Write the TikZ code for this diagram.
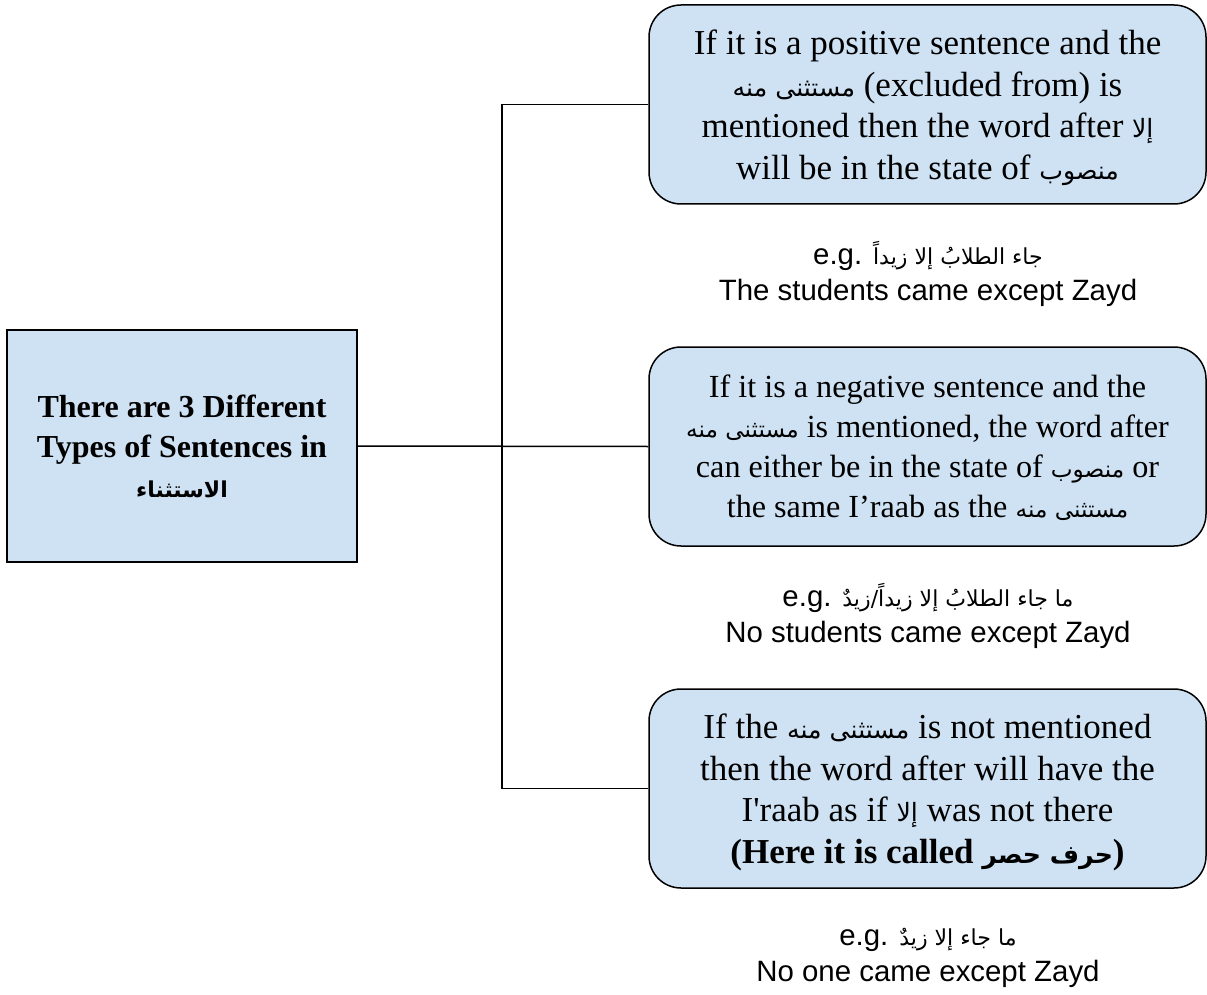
\documentclass[tikz,border=0pt]{standalone}
\usepackage{fontspec}
\setmainfont{Liberation Serif}[Ligatures=TeXOff]
\setsansfont{Liberation Sans}
\newfontfamily\arabicfont[Script=Arabic,Scale=0.75]{DejaVu Sans}
\newfontfamily\arabicserif[Script=Arabic,Scale=0.72]{DejaVu Sans}
\newfontfamily\arabictitle[Script=Arabic,Scale=0.685]{DejaVu Sans}
\TeXXeTstate=1
% Arabic inside sans lines, inside serif box text, and in the title box
\newcommand\ar[1]{{\arabicfont\beginR #1\endR}}
\newcommand\ars[1]{{\arabicserif\beginR #1\endR}}
\newcommand\art[1]{{\arabictitle\beginR #1\endR}}
\definecolor{boxblue}{HTML}{CFE2F3}

\begin{document}
\begin{tikzpicture}[x=1pt,y=-1pt,
  mainbox/.style={draw, line width=1.5pt, fill=boxblue, minimum width=350pt,
    minimum height=232pt, inner sep=0pt, align=center,
    font=\fontsize{32}{40}\selectfont\bfseries},
  rulebox/.style={draw, line width=1.5pt, fill=boxblue, rounded corners=32pt,
    minimum width=557pt, minimum height=199pt, inner sep=0pt, align=center,
    text depth=0pt, font=\fontsize{35}{41.5}\selectfont},
  smallrule/.style={rulebox, font=\fontsize{32.2}{40}\selectfont},
  example/.style={align=center, inner sep=0pt,
    font=\sffamily\fontsize{29.4}{36}\selectfont},
  link/.style={line width=1.5pt}]
\useasboundingbox (0,0) rectangle (1207,995);

% topic box
\node[mainbox] (main) at (182,446) {There are 3 Different\\Types of Sentences in\\\art{الاستثناء}};

% the three cases
\node[rulebox] (b1) at (927.5,104.5) {If it is a positive sentence and the\\
  \ars{مستثنى منه} (excluded from) is\\
  mentioned then the word after \ars{إلا}\\
  will be in the state of \ars{منصوب}};
\node[smallrule] (b2) at (927.5,446.5) {If it is a negative sentence and the\\
  \ars{مستثنى منه} is mentioned, the word after\\
  can either be in the state of \ars{منصوب} or\\
  the same I’raab as the \ars{مستثنى منه}};
\node[rulebox] (b3) at (927.5,788.5) {If the \ars{مستثنى منه} is not mentioned\\
  then the word after will have the\\
  I'raab as if \ars{إلا} was not there\\
  \textbf{(Here it is called \ars{حرف حصر})}};

% examples under each case
\node[example] (e1) at (928,274) {e.g. \ar{جاء الطلابُ إلا زيداً}\\The students came except Zayd};
\node[example] (e2) at (928,616) {e.g. \ar{ما جاء الطلابُ إلا زيداً/زيدٌ}\\No students came except Zayd};
\node[example] (e3) at (928,958) {e.g. \ar{ما جاء إلا زيدٌ}\\No one came except Zayd};

% connectors
\coordinate (hub) at (502,446);
\draw[link] (main.east) -- (b2.west);
\draw[link] (b1.west) -| (hub) |- (b3.west);
\end{tikzpicture}
\end{document}
